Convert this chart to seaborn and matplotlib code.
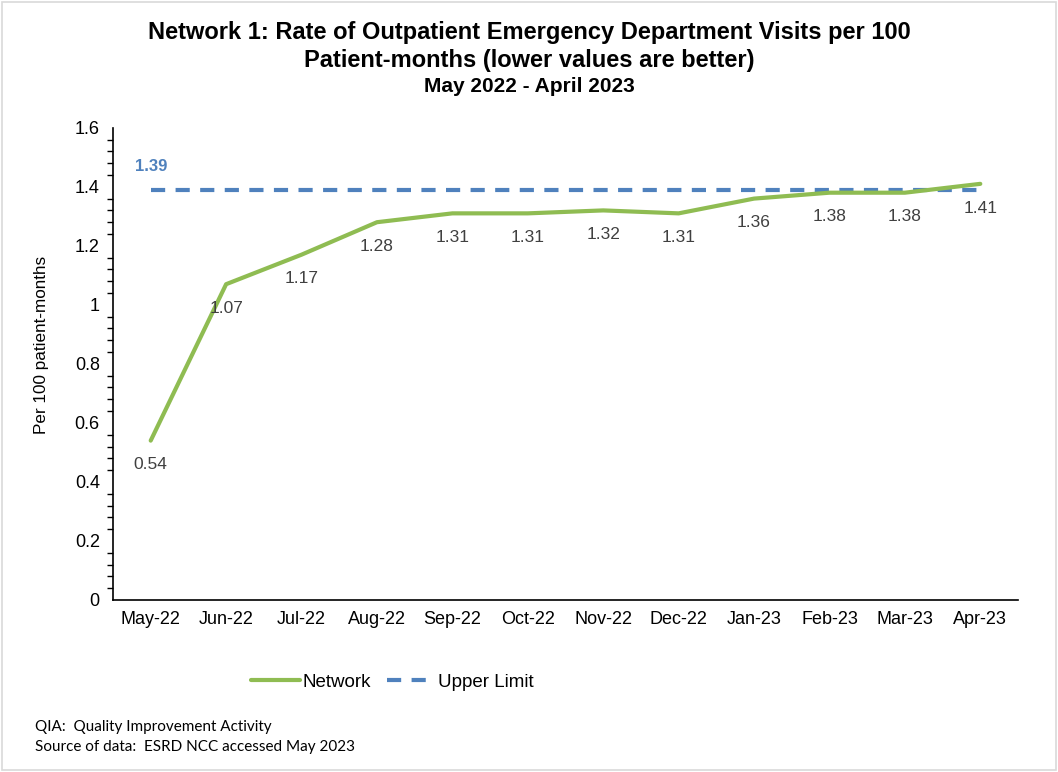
import pandas as pd
import matplotlib.pyplot as plt
import seaborn as sns
from matplotlib.ticker import MultipleLocator
from matplotlib.patches import Rectangle
from matplotlib.lines import Line2D

months = ['May-22', 'Jun-22', 'Jul-22', 'Aug-22', 'Sep-22', 'Oct-22',
          'Nov-22', 'Dec-22', 'Jan-23', 'Feb-23', 'Mar-23', 'Apr-23']
network = [0.54, 1.07, 1.17, 1.28, 1.31, 1.31, 1.32, 1.31, 1.36, 1.38, 1.38, 1.41]
upper_limit = [1.39] * 12

green = '#8fbc52'
blue = '#4f81bd'
dash = (0, (3.4, 2.5))

sns.set_theme(style='white')
plt.rcParams['font.family'] = ['Liberation Sans', 'DejaVu Sans']
plt.rcParams['text.color'] = 'black'

df = pd.DataFrame({'month': months, 'Network': network, 'Upper Limit': upper_limit})
df['x'] = range(len(months))

fig = plt.figure(figsize=(10.58, 7.72), dpi=100)
ax = fig.add_axes([0.1068, 0.2228, 0.8554, 0.6117])

sns.lineplot(data=df, x='x', y='Upper Limit', ax=ax, color=blue, lw=3,
             linestyle=dash, label='_nolegend_')
sns.lineplot(data=df, x='x', y='Network', ax=ax, color=green, lw=3, label='_nolegend_')

ax.set_xlim(-0.5, len(months) - 0.5)
ax.set_ylim(0, 1.6)
# Excel-style: ticks between categories, labels centred on categories
ax.set_xticks([i + 0.5 for i in range(-1, len(months))])
ax.set_xticklabels([])
ax.set_xticks(range(len(months)), minor=True)
ax.set_xticklabels(months, minor=True)
ax.tick_params(axis='x', which='major', direction='out', length=6, width=1, colors='black')
ax.tick_params(axis='x', which='minor', length=0, labelsize=13, pad=8, labelcolor='black')
ax.yaxis.set_minor_locator(MultipleLocator(0.04))
ax.set_yticks([0, 0.2, 0.4, 0.6, 0.8, 1.0, 1.2, 1.4, 1.6])
ax.set_yticklabels(['0', '0.2', '0.4', '0.6', '0.8', '1', '1.2', '1.4', '1.6'])
ax.tick_params(axis='y', which='major', direction='out', length=6, width=1, labelsize=13, colors='black')
ax.tick_params(axis='y', which='minor', direction='out', length=4, width=1, colors='black', left=True)
for s in ['top', 'right']:
    ax.spines[s].set_visible(False)
for s in ['left', 'bottom']:
    ax.spines[s].set_color('black')
    ax.spines[s].set_linewidth(1.2)
ax.set_xlabel('')
ax.set_ylabel('')
fig.text(0.039, 0.553, 'Per 100 patient-months', rotation=90, ha='center', va='center', fontsize=12.3)

for i, v in enumerate(network):
    ax.annotate(f'{v:.2f}', (i, v), xytext=(0, -12), textcoords='offset points',
                ha='center', va='top', fontsize=12.5, color='#404040')
ax.annotate(f'{upper_limit[0]:.2f}', (0, upper_limit[0]), xytext=(0, 11), textcoords='offset points',
            ha='center', va='bottom', fontsize=12, color=blue, fontweight='bold')

fig.text(0.5, 0.958, 'Network 1: Rate of Outpatient Emergency Department Visits per 100',
         ha='center', va='center', fontsize=17, fontweight='bold')
fig.text(0.5, 0.922, 'Patient-months (lower values are better)',
         ha='center', va='center', fontsize=17, fontweight='bold')
fig.text(0.5, 0.888, 'May 2022 - April 2023', ha='center', va='center', fontsize=15, fontweight='bold')

handles = [Line2D([], [], color=green, lw=3), Line2D([], [], color=blue, lw=3, linestyle=dash)]
fig.legend(handles, ['Network', 'Upper Limit'], loc='center', bbox_to_anchor=(0.371, 0.116),
           ncol=2, frameon=False, fontsize=13.5, handlelength=2.6, columnspacing=0.9, handletextpad=0.1)

fig.text(0.033, 0.058, 'QIA:  Quality Improvement Activity', fontsize=11, va='center', family='Lato')
fig.text(0.033, 0.032, 'Source of data:  ESRD NCC accessed May 2023', fontsize=11, va='center', family='Lato')

fig.patches.append(Rectangle((0.002, 0.002), 0.996, 0.996, transform=fig.transFigure,
                             fill=False, edgecolor='#d9d9d9', lw=1.2))

fig.savefig('out.png', dpi=100)
